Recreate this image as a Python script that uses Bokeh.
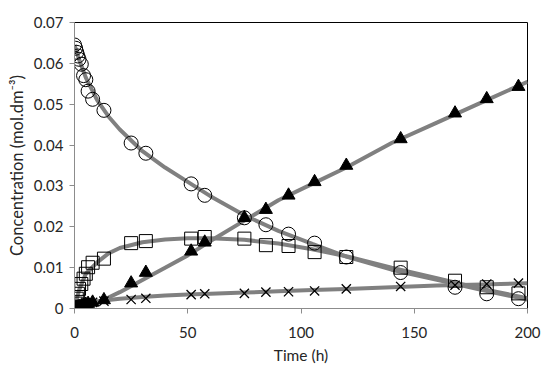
from bokeh.plotting import figure
from bokeh.models import Range1d, FixedTicker, CustomJSTickFormatter, Title
from bokeh.embed import file_html
from bokeh.resources import INLINE

# Experimental time points (h)
t = [0, 0.5, 1, 1.5, 2, 3, 4, 5, 6, 8, 13, 25, 31.5, 51.5, 57.5, 75, 84.5, 94.5,
     106, 120, 144, 168, 182, 196]
# Circles (reactant)
conc_a = [0.0645, 0.0637, 0.0627, 0.0618, 0.0610, 0.0598, 0.0570, 0.0560, 0.0532,
          0.0512, 0.0485, 0.0405, 0.0380, 0.0305, 0.0277, 0.0222, 0.0205, 0.0182,
          0.0160, 0.0126, 0.0088, 0.0052, 0.0036, 0.0024]
# Squares (intermediate)
conc_b = [0.0, 0.0012, 0.0024, 0.0036, 0.0048, 0.0060, 0.0073, 0.0085, 0.0101,
          0.0112, 0.0122, 0.0160, 0.0165, 0.0171, 0.0175, 0.0171, 0.0155, 0.0153,
          0.0138, 0.0126, 0.0100, 0.0068, 0.0052, 0.0037]
# Triangles (product)
conc_c = [0.0, 0.0001, 0.0002, 0.0003, 0.0004, 0.0006, 0.0008, 0.0010, 0.0012,
          0.0015, 0.0021, 0.0062, 0.0088, 0.0140, 0.0162, 0.0222, 0.0242, 0.0277,
          0.0310, 0.0350, 0.0415, 0.0478, 0.0513, 0.0543]
# Crosses (by-product)
conc_d = [0.0, 0.0002, 0.0004, 0.0005, 0.0007, 0.0009, 0.0011, 0.0012, 0.0013,
          0.0015, 0.0018, 0.0022, 0.0025, 0.0034, 0.0036, 0.0037, 0.0040, 0.0041,
          0.0043, 0.0048, 0.0054, 0.0057, 0.0060, 0.0062]

# Fitted model curves
fit_t = [0, 2, 5, 10, 15, 20, 30, 40, 50, 60, 75, 90, 105, 120, 140, 160, 180, 200]
fit_a = [0.0645, 0.0610, 0.0565, 0.0510, 0.0470, 0.0438, 0.0385, 0.0345, 0.0310,
         0.0275, 0.0228, 0.0190, 0.0158, 0.0127, 0.0095, 0.0070, 0.0045, 0.0022]
fit_b = [0.0, 0.0045, 0.0085, 0.0113, 0.0135, 0.0148, 0.0162, 0.0169, 0.0172,
         0.0172, 0.0168, 0.0159, 0.0145, 0.0128, 0.0100, 0.0074, 0.0048, 0.0025]
fit_c = [0.0, 0.0002, 0.0006, 0.0015, 0.0027, 0.0040, 0.0070, 0.0100, 0.0130,
         0.0165, 0.0215, 0.0265, 0.0305, 0.0345, 0.0405, 0.0455, 0.0505, 0.0555]
fit_d = [0.0, 0.0008, 0.0013, 0.0018, 0.0021, 0.0024, 0.0028, 0.0032, 0.0034,
         0.0036, 0.0039, 0.0042, 0.0045, 0.0048, 0.0052, 0.0056, 0.0059, 0.0062]

y_ticks = [0, 0.01, 0.02, 0.03, 0.04, 0.05, 0.06, 0.07]
x_ticks = [0, 50, 100, 150, 200]
x_title = "Time (h)"
y_title = "Concentration (mol.dm⁻³)"

FONT = "Lato"
TXT = "#262626"
AXC = "#8c8c8c"

p = figure(width=550, height=372, output_backend="svg", toolbar_location=None,
           x_range=Range1d(0, 200), y_range=Range1d(0, 0.07),
           min_border_left=74, min_border_right=23, min_border_top=22,
           min_border_bottom=64)
p.grid.visible = False
p.outline_line_color = "black"
p.outline_line_width = 1
p.background_fill_color = "white"
p.border_fill_color = "white"

line_kw = dict(line_color="#808080", line_width=4)
for fy in (fit_a, fit_b, fit_c, fit_d):
    p.line(fit_t, fy, **line_kw)

p.scatter(t, conc_a, marker="circle", size=14, fill_alpha=0, line_color="black", line_width=1)
p.scatter(t, conc_b, marker="square", size=13, fill_alpha=0, line_color="black", line_width=1)
p.scatter(t, conc_c, marker="triangle", size=13, fill_color="black", line_color="black")
p.scatter(t, conc_d, marker="x", size=13, line_color="black", line_width=1.3)

for ax in (p.xaxis[0], p.yaxis[0]):
    ax.axis_line_color = AXC
    ax.major_tick_line_color = AXC
    ax.minor_tick_line_color = None
    ax.major_tick_out = 5
    ax.major_tick_in = 0
    ax.major_label_text_font = FONT
    ax.major_label_text_font_size = "15px"
    ax.major_label_text_color = TXT
    ax.axis_label_text_font = FONT
    ax.axis_label_text_font_size = "15.5px"
    ax.axis_label_text_font_style = "normal"
    ax.axis_label_text_color = TXT

p.xaxis.ticker = FixedTicker(ticks=x_ticks)
p.yaxis.ticker = FixedTicker(ticks=y_ticks)
p.yaxis.formatter = CustomJSTickFormatter(code="return tick == 0 ? '0' : tick.toFixed(2);")
p.xaxis.axis_label = x_title
p.xaxis.major_label_standoff = 13
p.yaxis.major_label_standoff = 6
p.xaxis.axis_label_standoff = 5

# y-axis title as a side title centred on the frame
ytitle = Title(text=y_title, align="center", text_font=FONT, text_font_size="16.5px",
               text_font_style="normal", text_color=TXT, standoff=7, offset=-5)
p.add_layout(ytitle, "left")

open("out.html", "w").write(file_html(p, INLINE))
